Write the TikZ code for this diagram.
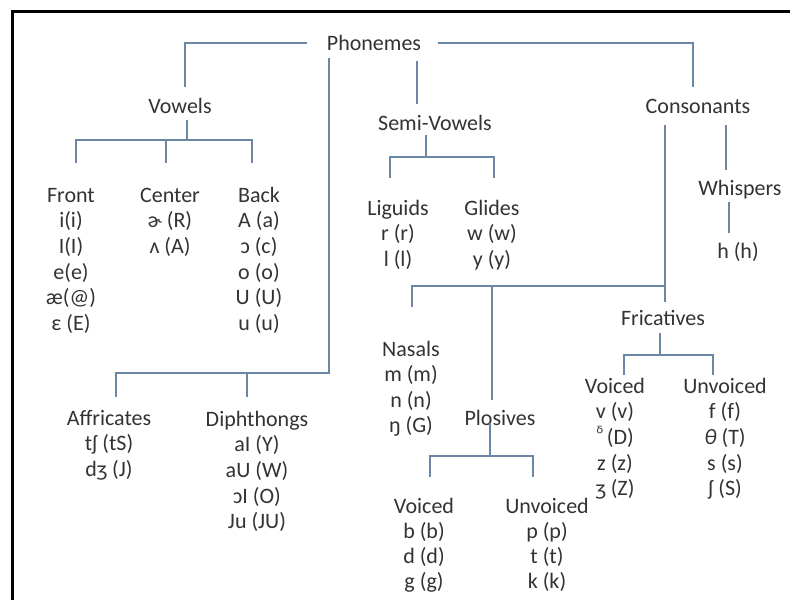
\documentclass[tikz,border=0pt]{standalone}
\usepackage{fontspec}
\setmainfont{Carlito}
\newfontfamily\ipafont{DejaVu Sans}
\definecolor{txt}{HTML}{333333}
\definecolor{ln}{HTML}{6A88A6}
\begin{document}
\begin{tikzpicture}[x=1pt,y=-1pt,
  lbl/.style={anchor=base, inner sep=0pt, text=txt, font=\fontsize{22}{26}\selectfont},
  conn/.style={draw=ln, line width=2pt},
  frameline/.style={draw=black, line width=3pt}]
\useasboundingbox (0,0) rectangle (790,600);
\fill[white] (0,0) rectangle (790,600);
\draw[frameline] (12.5,600) -- (12.5,11.5) -- (790,11.5);

% ---- top level
\node[lbl] (phon) at (374,50) {Phonemes};
\node[lbl] (vow) at (180,113) {Vowels};
\node[lbl] (semi) at (435,130) {Semi-Vowels};
\node[lbl] (cons) at (698,113) {Consonants};

% ---- vowels columns
\node[lbl] (front) at (71,202) {Front};
\foreach \t [count=\i] in {i(i), I(I), e(e), æ(@), ε (E)}
  \node[lbl] (front\i) at (71,202+25.7*\i) {\t};
\node[lbl] (center) at (170,202) {Center};
\foreach \t [count=\i] in {ɚ (R), ʌ (A)}
  \node[lbl] (center\i) at (170,202+25.7*\i) {\t};
\node[lbl] (back) at (259,202) {Back};
\foreach \t [count=\i] in {A (a), ɔ (c), o (o), U (U), u (u)}
  \node[lbl] (back\i) at (259,202+25.7*\i) {\t};

% ---- semi-vowels
\node[lbl] (liq) at (398,215) {Liguids};
\foreach \t [count=\i] in {r (r), l (l)}
  \node[lbl] (liq\i) at (398,215+25.7*\i) {\t};
\node[lbl] (gli) at (492,215) {Glides};
\foreach \t [count=\i] in {w (w), y (y)}
  \node[lbl] (gli\i) at (492,215+25.7*\i) {\t};

% ---- whispers
\node[lbl] (whi) at (740,195) {Whispers};
\node[lbl] (hh) at (738,258) {h (h)};

% ---- affricates / diphthongs
\node[lbl] (aff) at (109,425) {Affricates};
\foreach \t [count=\i] in {tʃ (tS), dʒ (J)}
  \node[lbl] (aff\i) at (109,425+25.7*\i) {\t};
\node[lbl] (dip) at (257,426) {Diphthongs};
\foreach \t [count=\i] in {aI (Y), aU (W), ɔI (O), Ju (JU)}
  \node[lbl] (dip\i) at (257,426+25.7*\i) {\t};

% ---- nasals / plosives
\node[lbl] (nas) at (411,356) {Nasals};
\foreach \t [count=\i] in {m (m), n (n), ŋ (G)}
  \node[lbl] (nas\i) at (411,356+25.5*\i) {\t};
\node[lbl] (plo) at (500,425) {Plosives};
\node[lbl] (pv) at (424,513) {Voiced};
\foreach \t [count=\i] in {b (b), d (d), g (g)}
  \node[lbl] (pv\i) at (424,513+25.2*\i) {\t};
\node[lbl] (pu) at (547,513) {Unvoiced};
\foreach \t [count=\i] in {p (p), t (t), k (k)}
  \node[lbl] (pu\i) at (547,513+25.2*\i) {\t};

% ---- fricatives
\node[lbl] (fri) at (663,325) {Fricatives};
\node[lbl] (fv) at (615,393) {Voiced};
\node[lbl] (fv1) at (615,418.7) {v (v)};
\node[lbl] (fv2) at (615,444.4) {{\ipafont\fontsize{18}{20}\selectfont\raisebox{5pt}{ᵟ}}\,(D)};
\node[lbl] (fv3) at (615,470.1) {z (z)};
\node[lbl] (fv4) at (615,495.8) {ʒ (Z)};
\node[lbl] (fu) at (725,393) {Unvoiced};
\node[lbl] (fu1) at (725,418.7) {f (f)};
\node[lbl] (fu2) at (725,444.4) {\textit{θ} (T)};
\node[lbl] (fu3) at (725,470.1) {s (s)};
\node[lbl] (fu4) at (725,495.8) {ʃ (S)};

% ---- connectors
\coordinate (pL) at (307,43);  \coordinate (vT) at (185,87);
\draw[conn] (pL) -| (vT);
\coordinate (pR) at (438,43);  \coordinate (cT) at (693,87);
\draw[conn] (pR) -| (cT);
\coordinate (pS) at (417,61);  \coordinate (sT) at (417,104);
\draw[conn] (pS) -- (sT);
\coordinate (pD) at (329,58);  \coordinate (adJ) at (329,373);
\coordinate (afT) at (116,397); \coordinate (diT) at (247,397);
\draw[conn] (pD) -- (adJ) -| (afT);
\draw[conn] (diT) -- (diT |- adJ);

% vowels
\coordinate (vB) at (187,120); \coordinate (vJ) at (187,140);
\draw[conn] (vB) -- (vJ);
\draw[conn] (76,163) |- (252,140) -- (252,163);
\draw[conn] (166,140) -- (166,163);

% semi-vowels
\draw[conn] (426,135) -- (426,157);
\draw[conn] (390,178) |- (494,157) -- (494,178);

% consonants
\draw[conn] (665,125) -- (665,302);
\draw[conn] (412,307) |- (665,286);
\draw[conn] (492,286) -- (492,400);
\draw[conn] (726,125) -- (726,170);
\draw[conn] (729,202) -- (729,233);

% plosives
\draw[conn] (490,423) -- (490,456);
\draw[conn] (430,477) |- (533,456) -- (533,477);

% fricatives
\draw[conn] (660,333) -- (660,355);
\draw[conn] (624,375) |- (713,355) -- (713,375);
\end{tikzpicture}
\end{document}
